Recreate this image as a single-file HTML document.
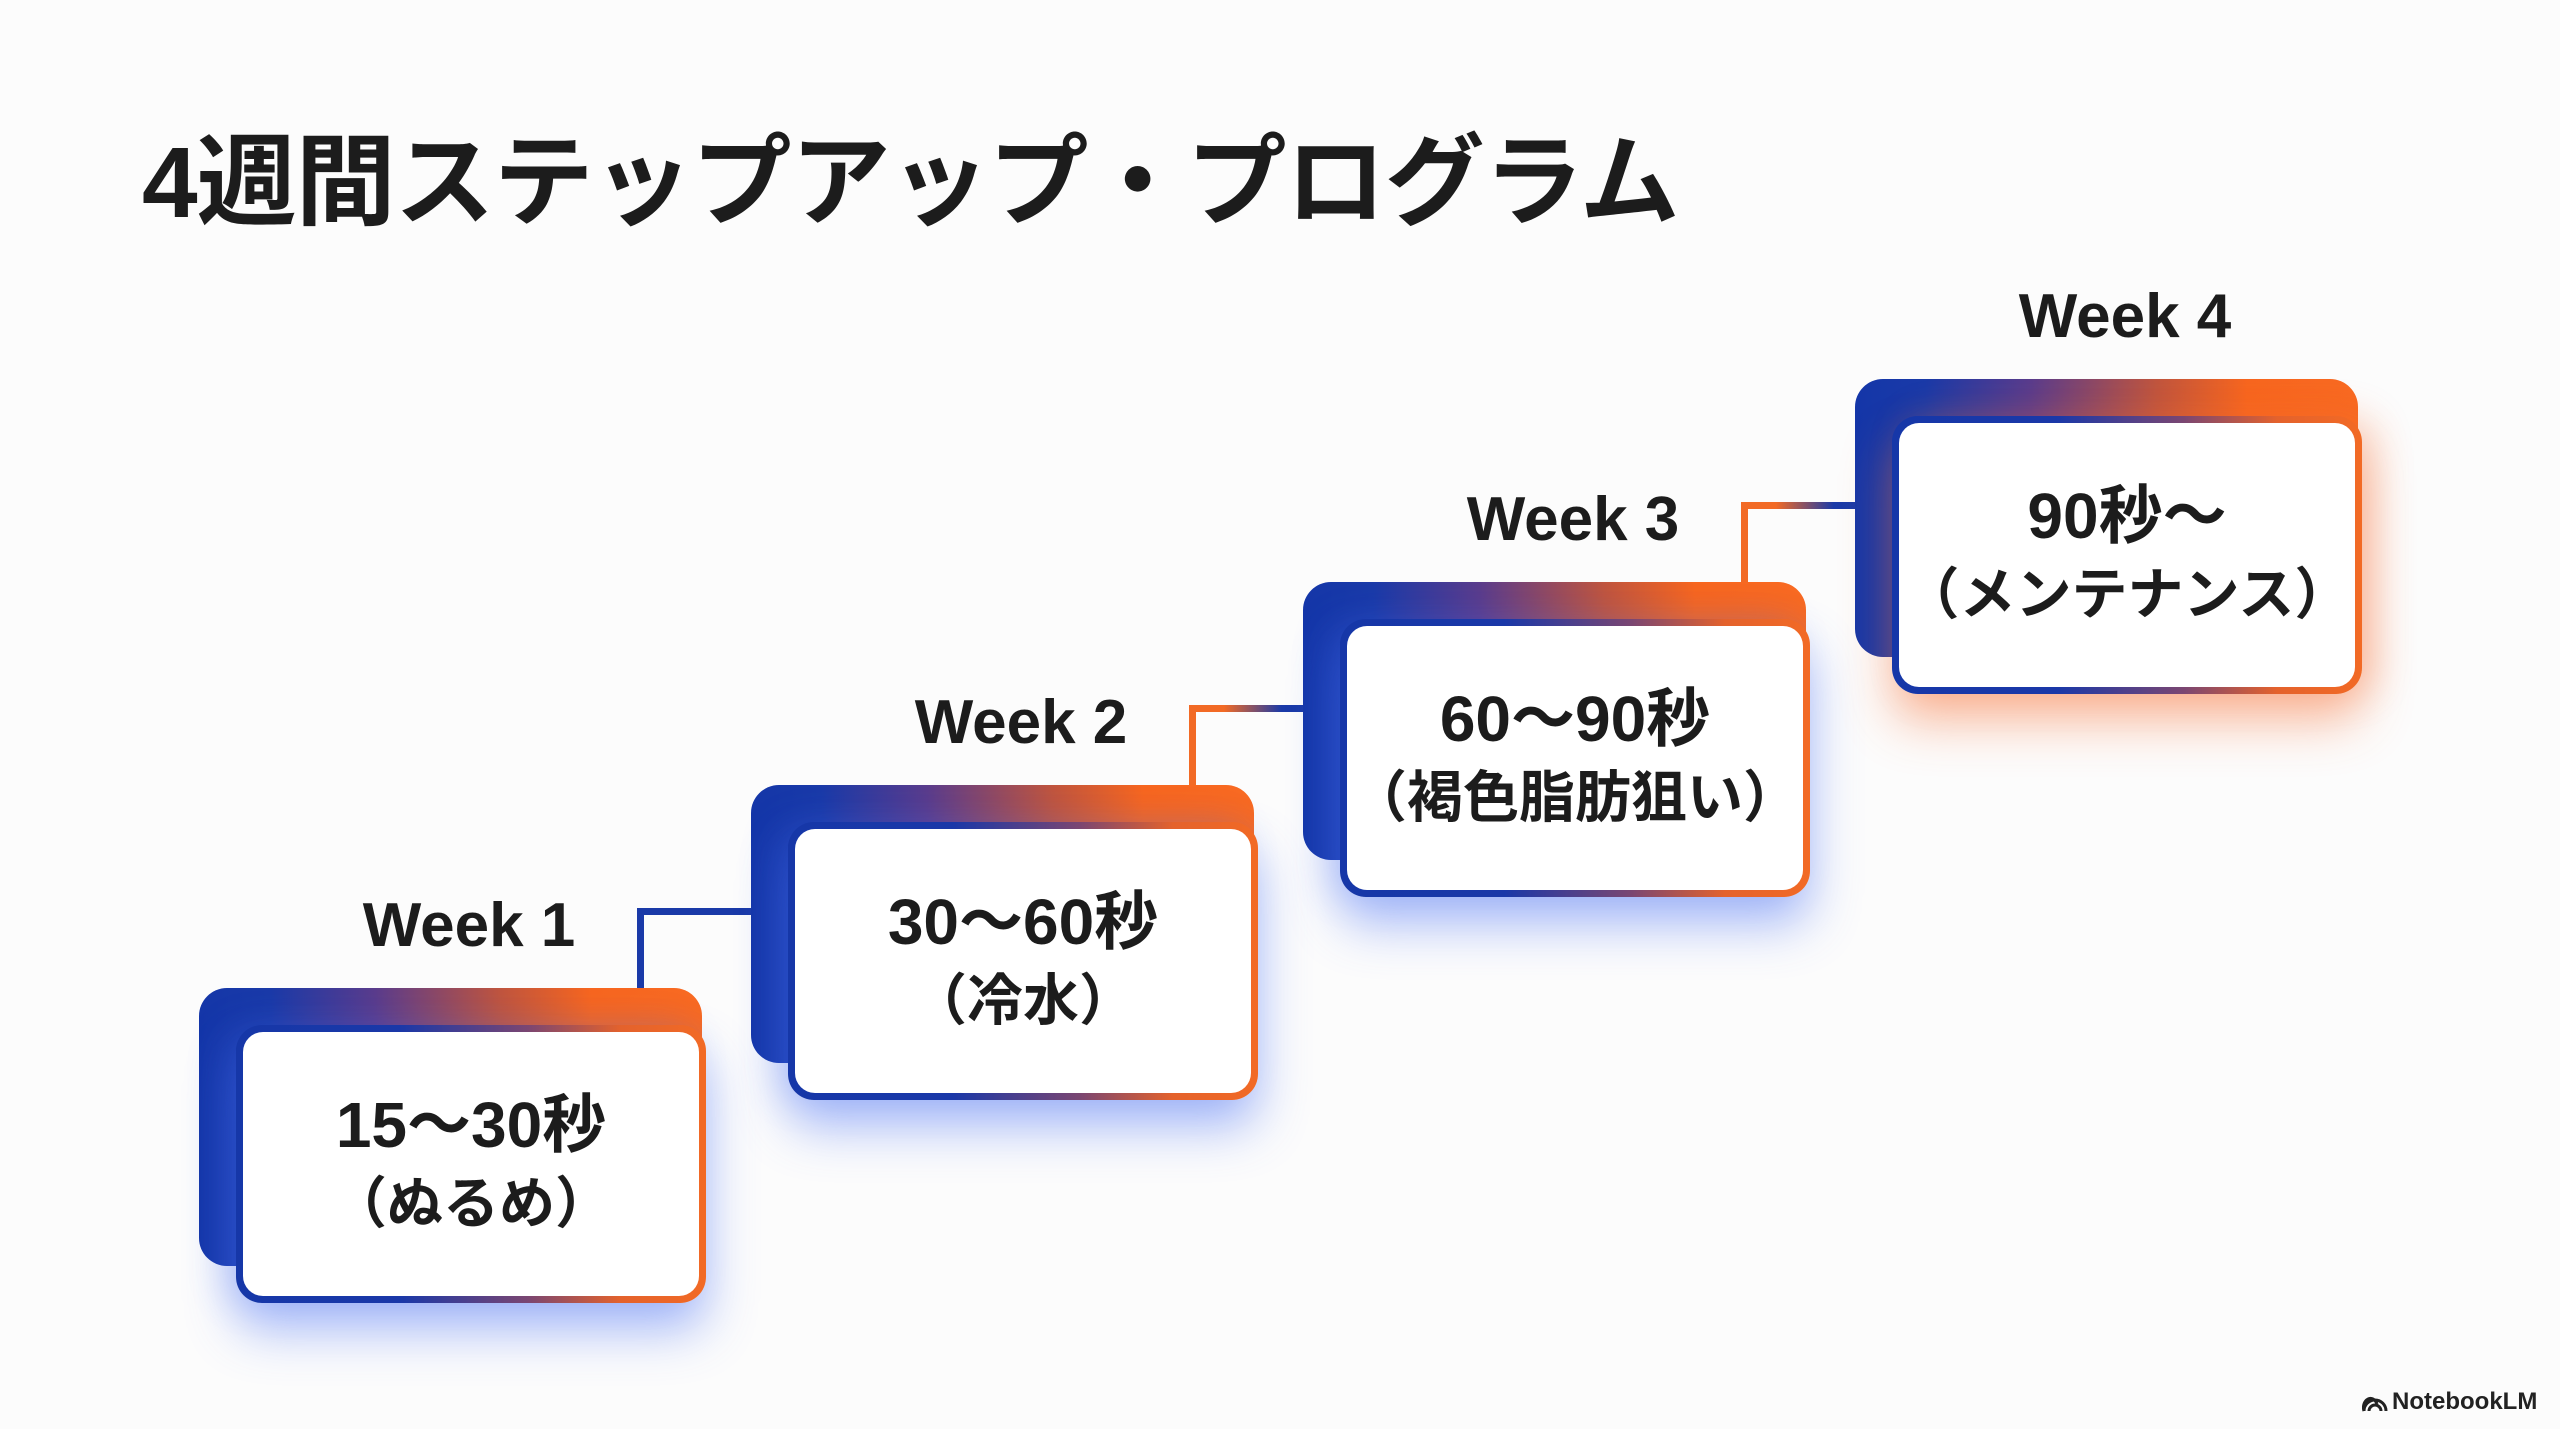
<!DOCTYPE html>
<html><head><meta charset="utf-8"><style>
html,body{margin:0;padding:0}
body{width:2560px;height:1429px;background:#fcfcfc;position:relative;overflow:hidden;font-family:"Liberation Sans","Noto Sans CJK JP",sans-serif;color:#1c1c1c}
.title{position:absolute;left:142px;top:118px;font-size:100px;font-weight:700;line-height:130px;white-space:nowrap;letter-spacing:-1px}
.back{position:absolute;width:503px;height:278px;border-radius:28px;background:linear-gradient(90deg,#1436a8 0%,#1a3aa8 14%,#5a3c8c 35%,#c0553e 60%,#f7661f 78%,#f86a22 100%)}
.front{position:absolute;width:470px;height:278px;border-radius:26px;padding:7px;box-sizing:border-box;background:linear-gradient(90deg,#1637a8 0%,#1a38a8 35%,#7a4672 62%,#e4622c 82%,#f26a25 100%)}
.front.g{box-shadow:0 28px 50px rgba(70,110,245,0.45),-14px 0 36px rgba(70,110,245,0.2)}
.front.o{box-shadow:0 28px 50px rgba(248,110,50,0.45),14px 0 36px rgba(248,110,50,0.25)}
.inner{width:100%;height:100%;background:#fff;border-radius:20px;display:flex;flex-direction:column;align-items:center;justify-content:center;text-align:center}
.l1{font-size:64px;font-weight:700;line-height:80px;white-space:nowrap}
.l2{font-size:56px;font-weight:700;line-height:78px;white-space:nowrap}
.wk{position:absolute;width:400px;text-align:center;font-size:62px;font-weight:700;line-height:70px}
.v{position:absolute;width:7px}
.h{position:absolute;height:7px}
.logo{position:absolute;left:2362px;top:1388px;font-size:24px;font-weight:700;color:#222;white-space:nowrap}
</style></head><body>
<div class="title">4週間ステップアップ・プログラム</div>

<div class="v" style="left:637px;top:908px;height:82px;background:#1a3aa8"></div>
<div class="h" style="left:637px;top:908px;width:116px;background:#1a3aa8"></div>
<div class="v" style="left:1189px;top:705px;height:82px;background:#f26a25"></div>
<div class="h" style="left:1189px;top:705px;width:116px;background:linear-gradient(90deg,#f26a25,#f26a25 30%,#1a3aa8 80%)"></div>
<div class="v" style="left:1741px;top:502px;height:82px;background:#f26a25"></div>
<div class="h" style="left:1741px;top:502px;width:116px;background:linear-gradient(90deg,#f26a25,#f26a25 30%,#1a3aa8 80%)"></div>

<div class="wk" style="left:269px;top:891px">Week 1</div>
<div class="back" style="left:199px;top:988px"></div>
<div class="front g" style="left:236px;top:1025px"><div class="inner"><div class="l1">15〜30秒</div><div class="l2">（ぬるめ）</div></div></div>

<div class="wk" style="left:821px;top:688px">Week 2</div>
<div class="back" style="left:751px;top:785px"></div>
<div class="front g" style="left:788px;top:822px"><div class="inner"><div class="l1">30〜60秒</div><div class="l2">（冷水）</div></div></div>

<div class="wk" style="left:1373px;top:485px">Week 3</div>
<div class="back" style="left:1303px;top:582px"></div>
<div class="front g" style="left:1340px;top:619px"><div class="inner"><div class="l1">60〜90秒</div><div class="l2">（褐色脂肪狙い）</div></div></div>

<div class="wk" style="left:1925px;top:282px">Week 4</div>
<div class="back" style="left:1855px;top:379px"></div>
<div class="front o" style="left:1892px;top:416px"><div class="inner"><div class="l1">90秒〜</div><div class="l2">（メンテナンス）</div></div></div>

<div class="logo"><svg width="26" height="20" viewBox="0 0 26 20" style="vertical-align:-3px;margin-right:4px"><path d="M2 19 A11 11 0 0 1 24 19 M7 19 A6 6 0 0 1 19 19 M2 19 A7 9 0 0 1 15 12" fill="none" stroke="#222" stroke-width="3"/></svg>NotebookLM</div>
</body></html>
